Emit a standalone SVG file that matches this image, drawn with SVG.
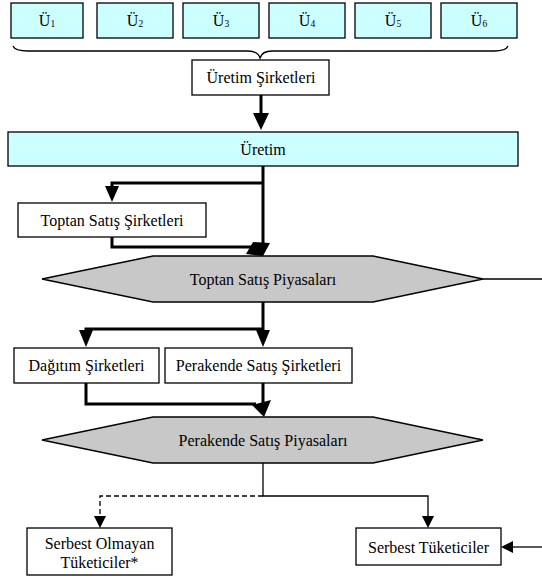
<svg xmlns="http://www.w3.org/2000/svg" width="542" height="579" viewBox="0 0 542 579">
<style>
text{font-family:'Liberation Serif','DejaVu Serif',serif;font-size:16px;fill:#000;text-anchor:middle;dominant-baseline:central}
.sub{font-size:9.5px}
.cy{fill:#CCFFFF;stroke:#000;stroke-width:1.3}
.wb{fill:#FFFFFF;stroke:#000;stroke-width:1.3}
.hx{fill:#C8C8C8;stroke:#000;stroke-width:1.3}
.th{fill:none;stroke:#000;stroke-width:3}
.tn{fill:none;stroke:#000;stroke-width:1.3}
.ds{fill:none;stroke:#000;stroke-width:1.3;stroke-dasharray:5,3}
.ah{fill:#000;stroke:none}
</style>
<rect width="542" height="579" fill="#FFFFFF"/>
<g id="u1"><rect class="cy" x="11" y="3" width="72" height="35"/><text x="47" y="20">Ü<tspan class="sub" dy="4">1</tspan></text></g>
<g id="u2"><rect class="cy" x="97" y="3" width="76" height="35"/><text x="135" y="20">Ü<tspan class="sub" dy="4">2</tspan></text></g>
<g id="u3"><rect class="cy" x="183" y="3" width="76" height="35"/><text x="221" y="20">Ü<tspan class="sub" dy="4">3</tspan></text></g>
<g id="u4"><rect class="cy" x="269" y="3" width="76" height="35"/><text x="307" y="20">Ü<tspan class="sub" dy="4">4</tspan></text></g>
<g id="u5"><rect class="cy" x="355" y="3" width="76" height="35"/><text x="393" y="20">Ü<tspan class="sub" dy="4">5</tspan></text></g>
<g id="u6"><rect class="cy" x="441" y="3" width="76" height="35"/><text x="479" y="20">Ü<tspan class="sub" dy="4">6</tspan></text></g>
<g id="brace"><path class="tn" d="M13,46 Q15,51 28,51 L248,51 Q258,51 260,58 Q262,51 272,51 L494,51 Q506,51 508,46"/></g>
<g id="uretim-sirketleri"><rect class="wb" x="192" y="60" width="137" height="35"/><text x="261" y="77">Üretim Şirketleri</text></g>
<g id="uretim"><rect class="cy" x="8" y="132" width="510" height="34"/><text x="263" y="149">Üretim</text></g>
<g id="toptan-sirketleri"><rect class="wb" x="18" y="203" width="188" height="34"/><text x="112" y="220">Toptan Satış Şirketleri</text></g>
<g id="toptan-piyasa"><polygon class="hx" points="42,279 153,256 373,256 483,279 373,302 153,302"/><text x="263" y="279">Toptan Satış Piyasaları</text></g>
<g id="dagitim"><rect class="wb" x="14" y="348" width="145" height="35"/><text x="86.5" y="365.5">Dağıtım Şirketleri</text></g>
<g id="perakende-sirketleri"><rect class="wb" x="165" y="348" width="187" height="35"/><text x="258.5" y="365.5">Perakende Satış Şirketleri</text></g>
<g id="perakende-piyasa"><polygon class="hx" points="42,440 153,417 373,417 483,440 373,463 153,463"/><text x="263" y="440">Perakende Satış Piyasaları</text></g>
<g id="serbest-olmayan"><rect class="wb" x="27" y="528" width="145" height="47"/><text x="99.5" y="543">Serbest Olmayan</text><text x="99.5" y="562">Tüketiciler*</text></g>
<g id="serbest"><rect class="wb" x="356" y="528" width="145" height="37"/><text x="428.5" y="547">Serbest Tüketiciler</text></g>
<g id="connectors">
<path class="th" d="M261,95 L261,114"/>
<polygon class="ah" points="253,113 269,113 261,130"/>
<path class="th" d="M263,166 L263,246"/>
<path class="th" d="M263,183 L112,183 L112,187"/>
<polygon class="ah" points="105,186 119,186 112,202"/>
<path class="th" d="M112,237 L112,247 L252,247"/>
<polygon class="ah" points="253,242 270,243 263,256 246,254"/>
<path class="th" d="M263,302 L263,331"/>
<path class="th" d="M263,329 L86,329 L86,331"/>
<polygon class="ah" points="79,330 93,330 86,347"/>
<polygon class="ah" points="256,330 270,330 263,347"/>
<path class="th" d="M86,383 L86,404 L256,404"/>
<path class="th" d="M263,383 L263,403"/>
<polygon class="ah" points="252,405 271,400 264,417"/>
<path class="tn" d="M483,279 L542,279"/>
<path class="tn" d="M263,463 L263,496 L428,496 L428,517"/>
<polygon class="ah" points="422,516 434,516 428,528"/>
<path class="ds" d="M263,496 L100,496 L100,516"/>
<polygon class="ah" points="94,516 106,516 100,528"/>
<path class="tn" d="M542,547 L511,547"/>
<polygon class="ah" points="513,541 513,553 501,547"/>
</g>
</svg>
